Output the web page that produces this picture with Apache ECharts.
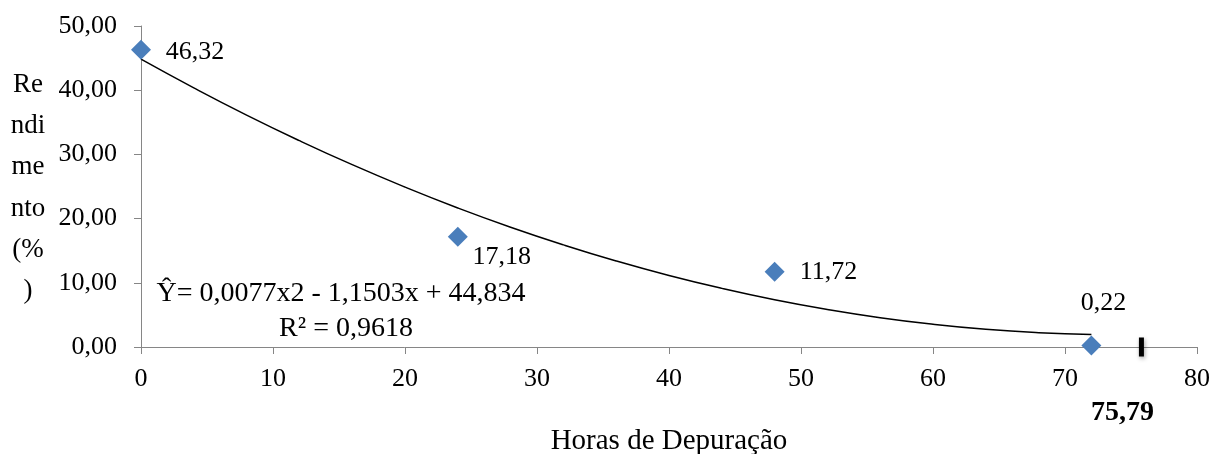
<!DOCTYPE html>
<html><head><meta charset="utf-8">
<script src="https://cdn.jsdelivr.net/npm/echarts@6/dist/echarts.min.js"></script>
<style>html,body{margin:0;padding:0;background:#fff}#c{width:1213px;height:454px}</style>
</head><body><div id="c"></div>
<script>
// Observed points (hours, yield %)
const hours = [0, 24, 48, 72];
const rendimento = [46.32, 17.18, 11.72, 0.22];
// Trendline
const trendX = [0, 4, 8, 12, 16, 20, 24, 28, 32, 36, 40, 44, 48, 52, 56, 60, 64, 68, 72];
const trendY = [44.83, 40.36, 36.12, 32.14, 28.40, 24.91, 21.66, 18.66, 15.91, 13.40, 11.14, 9.13, 7.36, 5.84, 4.56, 3.54, 2.75, 2.22, 1.93];
// Marker on the axis
const markX = [75.79];
const markLabel = ['75,79'];
const eqLine1 = 'Ŷ= 0,0077x2 - 1,1503x + 44,834';
const eqLine2 = 'R² = 0,9618';
const yTitle = ['Re', 'ndi', 'me', 'nto', '(%', ')'];
const xTitle = 'Horas de Depuração';

const FONT = '"Liberation Serif", "Times New Roman", serif';
const fmt = v => v.toFixed(2).replace('.', ',');

// label offsets relative to each marker centre
const labelOffsets = [[54, 3], [44, 20], [54, 0], [12, -42]];

const chart = echarts.init(document.getElementById('c'));
chart.setOption({
  animation: false,
  backgroundColor: '#fff',
  grid: {left: 141, right: 16, top: 26, bottom: 107, containLabel: false, outerBoundsMode: 'none'},
  xAxis: {
    type: 'value', min: 0, max: 80, interval: 10,
    name: xTitle, nameLocation: 'middle', nameGap: 80,
    nameTextStyle: {fontFamily: FONT, fontSize: 29, color: '#000'},
    axisLine: {lineStyle: {color: '#868686', width: 1}},
    axisTick: {show: true, length: 7, lineStyle: {color: '#868686'}},
    axisLabel: {fontFamily: FONT, fontSize: 26, color: '#000', margin: 19},
    splitLine: {show: false}
  },
  yAxis: {
    type: 'value', min: 0, max: 50, interval: 10,
    axisLine: {show: true, lineStyle: {color: '#868686', width: 1}},
    axisTick: {show: true, length: 7, lineStyle: {color: '#868686'}},
    axisLabel: {fontFamily: FONT, fontSize: 26, color: '#000', margin: 24, formatter: v => fmt(v)},
    splitLine: {show: false}
  },
  series: [
    {
      type: 'line', data: trendX.map((x, i) => [x, trendY[i]]),
      smooth: true, showSymbol: false, symbol: 'none',
      lineStyle: {color: '#000', width: 1.5}, z: 2, silent: true
    },
    {
      type: 'scatter', symbol: 'diamond', symbolSize: 20,
      itemStyle: {color: '#4a7ebb', opacity: 1}, z: 3,
      data: hours.map((h, i) => ({
        value: [h, rendimento[i]],
        label: {show: true, position: 'inside', offset: labelOffsets[i], formatter: fmt(rendimento[i]),
          fontFamily: FONT, fontSize: 26, color: '#000'}
      }))
    },
    {
      type: 'scatter', symbol: 'rect', symbolSize: [5, 19],
      itemStyle: {color: '#000', opacity: 1, shadowColor: 'rgba(0,0,0,0.35)', shadowBlur: 4, shadowOffsetX: 1, shadowOffsetY: 2}, z: 4,
      data: markX.map((x, i) => ({
        value: [x, 0],
        label: {show: true, position: 'inside', offset: [-19, 66], formatter: markLabel[i],
          fontFamily: FONT, fontSize: 28, fontWeight: 'bold', color: '#000'}
      }))
    }
  ],
  graphic: [
    {type: 'text', x: 341, y: 294, style: {text: eqLine1, font: '28px ' + FONT, fill: '#000', textAlign: 'center', textVerticalAlign: 'middle'}},
    {type: 'text', x: 346, y: 329, style: {text: eqLine2, font: '28px ' + FONT, fill: '#000', textAlign: 'center', textVerticalAlign: 'middle'}}
  ].concat(yTitle.map((t, i) => ({
    type: 'text', x: 28, y: 85 + i * 41.2,
    style: {text: t, font: '27px ' + FONT, fill: '#000', textAlign: 'center', textVerticalAlign: 'middle'}
  })))
});
</script></body></html>
